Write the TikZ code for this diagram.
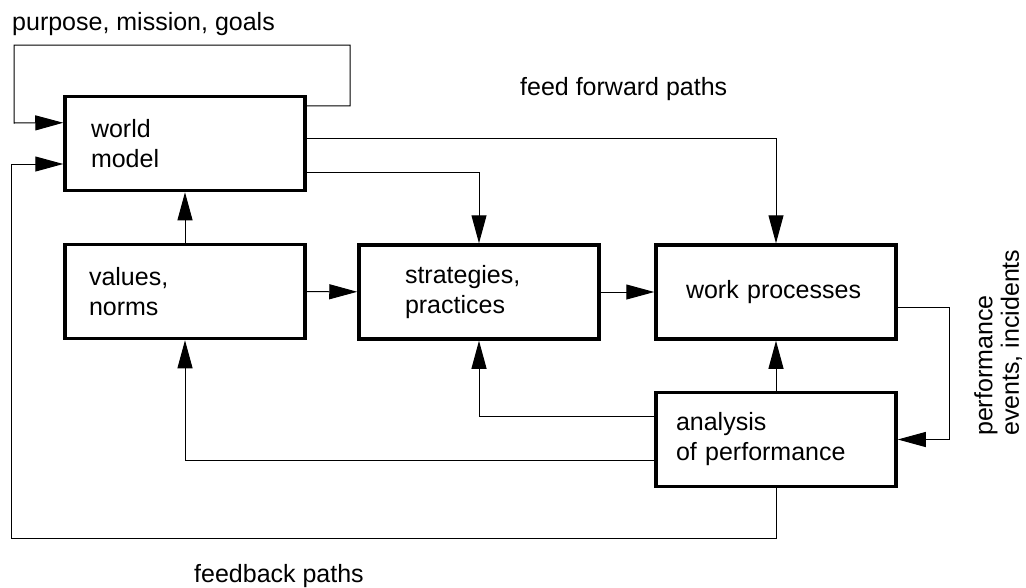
\documentclass[tikz,border=0pt]{standalone}
\usepackage{fontspec}
\setmainfont{Liberation Sans}
\usetikzlibrary{arrows.meta}

\begin{document}
\begin{tikzpicture}[x=1pt,y=-1pt,>={Triangle[length=28pt,width=15pt]},
  every node/.style={font=\fontsize{25}{30}\selectfont},
  box/.style={draw,line width=3.5pt,minimum width=240pt,minimum height=94pt,align=left,inner ysep=0pt},
  link/.style={->,line width=1pt},
  plain/.style={anchor=base west,inner sep=0pt}]
  \useasboundingbox (0,0) rectangle (1026,587);

  \node[box,inner xsep=26pt,text width=188pt] (world) at (185,143.5) {world\\model};
  \node[box,inner xsep=24pt,text width=192pt] (values) at (185,291.5) {values,\\norms};
  \node[box,inner xsep=46pt,text width=148pt] (strat) at (479,292) {strategies,\\practices};
  \node[box,inner xsep=30pt,text width=180pt] (work) at (776,292) {work processes};
  \node[box,inner xsep=20pt,text width=200pt] (analysis) at (776,439.5) {analysis\\of performance};

  \node[plain] (goals) at (12,30) {purpose, mission, goals};
  \node[plain] (forward) at (520,95) {feed forward paths};
  \node[plain] (feedback) at (194,582) {feedback paths};
  \node[rotate=90,anchor=north west,align=left,inner sep=0pt,font=\fontsize{25}{26.5}\selectfont]
    (events) at (974,436) {performance\\events, incidents};

  \draw[link] ([yshift=-11pt]world.north east) -| (350,45) -| (14,123) -- ([yshift=-28pt]world.north west);
  \draw[link] (analysis.south) |- (11,538) |- ([yshift=-20.5pt]world.west);
  \draw[link] ([yshift=5.5pt]world.east) -| (work.north);
  \draw[link] ([yshift=-28.5pt]world.east) -| (strat.north);
  \draw[link] (values) -- (world);
  \draw[link] (values) -- (strat);
  \draw[link] (strat) -- (work);
  \draw[link] ([yshift=-15pt]work.east) -| ([xshift=52pt]analysis.east) -- (analysis.east);
  \draw[link] (analysis) -- (work);
  \draw[link] ([yshift=23.5pt]analysis.west) -| (strat.south);
  \draw[link] ([yshift=-20.5pt]analysis.west) -| (values.south);
\end{tikzpicture}
\end{document}
